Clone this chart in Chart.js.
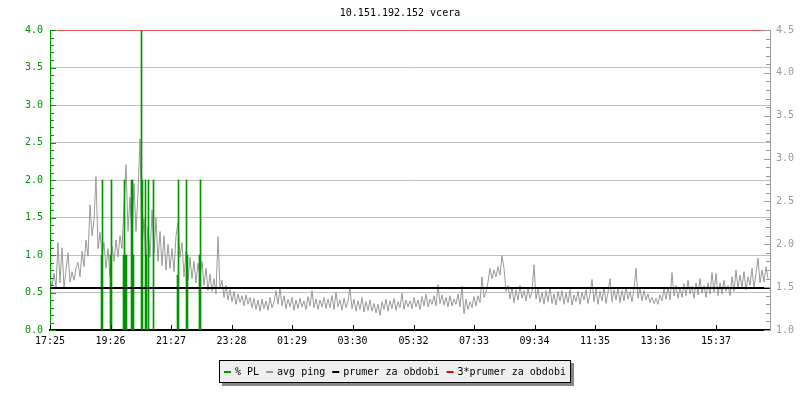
<!DOCTYPE html>
<html>
<head>
<meta charset="utf-8">
<script src="https://cdn.jsdelivr.net/npm/chart.js@4.4.1/dist/chart.umd.min.js"></script>
<style>
  html, body { margin: 0; padding: 0; background: #fff; }
</style>
</head>
<body>
<canvas id="chart1" width="800" height="400"></canvas>
<script>
const titleText = '10.151.192.152 vcera';

// x axis: minutes since 17:25
const tickMinutes = [0, 121, 242, 363, 484, 605, 727, 848, 969, 1090, 1211, 1332];
const timeLabels = ['17:25', '19:26', '21:27', '23:28', '01:29', '03:30',
  '05:32', '07:33', '09:34', '11:35', '13:36', '15:37'];

// avg ping, one sample every 4 minutes (right axis)
const stepMinutes = 4;
const pingValues = [
  1.60, 1.52, 1.66, 1.50, 2.02, 1.55, 1.96, 1.49, 1.70, 1.90, 1.56, 1.68, 1.58, 1.72, 1.79, 1.62,
  1.92, 1.74, 2.05, 1.86, 2.46, 2.10, 2.28, 2.79, 1.95, 2.14, 1.88, 2.02, 1.72, 1.95, 1.62,
  1.98, 1.80, 2.05, 1.85, 2.10, 1.95, 2.45, 2.93, 2.15, 2.55, 2.05, 2.71, 2.15, 2.60, 3.23,
  1.95, 2.30, 1.75, 2.20, 1.85, 2.40, 1.90, 2.31, 1.80, 2.15, 1.75, 2.10, 1.70, 2.00, 1.72,
  1.95, 1.68, 2.10, 2.25, 1.85, 2.02, 1.62, 1.92, 1.58, 1.85, 1.60, 1.80, 1.55, 1.78, 1.62,
  1.80, 1.52, 1.72, 1.46, 1.65, 1.45, 1.60, 1.42, 2.09, 1.48, 1.58, 1.38, 1.52, 1.35, 1.47,
  1.33, 1.45, 1.30, 1.42, 1.32, 1.40, 1.28, 1.41, 1.30, 1.38, 1.26, 1.37, 1.24, 1.35, 1.22,
  1.36, 1.25, 1.34, 1.23, 1.38, 1.26, 1.33, 1.46, 1.30, 1.49, 1.28, 1.40, 1.25, 1.36, 1.27,
  1.38, 1.23, 1.35, 1.25, 1.37, 1.27, 1.34, 1.24, 1.39, 1.28, 1.46, 1.26, 1.36, 1.24, 1.35,
  1.27, 1.38, 1.25, 1.36, 1.26, 1.40, 1.24, 1.44, 1.27, 1.35, 1.23, 1.37, 1.26, 1.34, 1.49,
  1.25, 1.36, 1.22, 1.34, 1.24, 1.38, 1.21, 1.33, 1.23, 1.35, 1.22, 1.31, 1.20, 1.30, 1.17,
  1.33, 1.24, 1.36, 1.22, 1.34, 1.25, 1.37, 1.23, 1.33, 1.26, 1.43, 1.24, 1.35, 1.27, 1.34,
  1.25, 1.38, 1.27, 1.35, 1.24, 1.39, 1.28, 1.42, 1.27, 1.36, 1.30, 1.40, 1.28, 1.53, 1.31,
  1.41, 1.29, 1.38, 1.27, 1.40, 1.28, 1.36, 1.30, 1.42, 1.27, 1.51, 1.19, 1.36, 1.24, 1.33,
  1.26, 1.39, 1.28, 1.40, 1.32, 1.62, 1.38, 1.44, 1.56, 1.72, 1.60, 1.70, 1.62, 1.74, 1.64,
  1.87, 1.72, 1.45, 1.52, 1.36, 1.50, 1.32, 1.47, 1.35, 1.52, 1.37, 1.46, 1.34, 1.48, 1.37,
  1.45, 1.76, 1.36, 1.48, 1.32, 1.44, 1.30, 1.46, 1.33, 1.50, 1.31, 1.42, 1.29, 1.45, 1.34,
  1.46, 1.30, 1.43, 1.32, 1.47, 1.29, 1.41, 1.33, 1.45, 1.30, 1.44, 1.35, 1.47, 1.31, 1.42,
  1.59, 1.33, 1.48, 1.30, 1.45, 1.34, 1.50, 1.31, 1.44, 1.60, 1.33, 1.47, 1.35, 1.49, 1.32,
  1.46, 1.34, 1.50, 1.36, 1.45, 1.33, 1.48, 1.72, 1.37, 1.49, 1.34, 1.46, 1.35, 1.42, 1.32,
  1.38, 1.31, 1.37, 1.30, 1.41, 1.34, 1.48, 1.36, 1.50, 1.35, 1.67, 1.40, 1.52, 1.37, 1.49,
  1.38, 1.54, 1.40, 1.58, 1.42, 1.51, 1.37, 1.55, 1.41, 1.60, 1.43, 1.52, 1.38, 1.55, 1.42,
  1.67, 1.44, 1.66, 1.40, 1.55, 1.42, 1.58, 1.45, 1.52, 1.40, 1.62, 1.45, 1.70, 1.48, 1.64,
  1.50, 1.68, 1.47, 1.62, 1.52, 1.72, 1.49, 1.66, 1.84, 1.55, 1.70, 1.56, 1.74, 1.60
];

// packet loss events (left axis)
const lossMinutes = [103, 105, 121, 123, 147, 149, 151, 153, 163, 165, 167,
  183, 185, 191, 193, 197, 207, 255, 257, 273, 275, 299, 301];
const lossValues = [1.0, 2.0, 1.0, 2.0, 1.0, 2.0, 1.0, 1.0, 2.0, 2.0, 1.0,
  4.0, 2.0, 2.0, 1.0, 2.0, 2.0, 0.73, 2.0, 2.0, 1.0, 1.0, 2.0];

const avgPing = 1.49;
const tripleAvgPing = 4.5;

const green = '#009600';
const gray = '#999999';

Chart.defaults.font.family = "'DejaVu Sans Mono', monospace";
Chart.defaults.font.size = 10;
Chart.defaults.color = '#000';

const axisMarks = {
  id: 'axisMarks',
  afterDatasetsDraw(chart) {
    const { ctx, chartArea: a, scales: { x, y, y2 } } = chart;
    const line = (x1, y1, x2, y2p) => {
      ctx.beginPath(); ctx.moveTo(x1, y1); ctx.lineTo(x2, y2p); ctx.stroke();
    };
    ctx.save();
    ctx.lineWidth = 1;
    ctx.strokeStyle = green;
    for (let i = 0; i <= 40; i++) {
      const py = Math.round(y.getPixelForValue(i / 10)) + 0.5;
      line(a.left, py, a.left + (i % 5 === 0 ? 6 : 4), py);
    }
    ctx.strokeStyle = gray;
    for (let i = 10; i <= 45; i++) {
      const py = Math.round(y2.getPixelForValue(i / 10)) + 0.5;
      line(a.right, py, a.right - (i % 5 === 0 ? 6 : 4), py);
    }
    ctx.strokeStyle = '#000';
    x.ticks.forEach(t => {
      const px = Math.round(x.getPixelForValue(t.value)) + 0.5;
      line(px, a.bottom, px, a.bottom - 5);
    });
    ctx.restore();
  },
  afterDraw(chart) {
    const { ctx } = chart;
    const items = chart.data.datasets.map(ds => ({ label: ds.label, color: ds.borderColor }));
    ctx.save();
    ctx.font = "10px 'DejaVu Sans Mono', monospace";
    ctx.textBaseline = 'middle';
    let content = 0;
    items.forEach((it, i) => {
      it.w = ctx.measureText(it.label).width;
      content += 11 + it.w + (i < items.length - 1 ? 7 : 0);
    });
    const w = Math.round(content + 10), h = 23;
    const left = Math.round(394.5 - w / 2), top = 360;
    ctx.fillStyle = '#888';
    ctx.fillRect(left + 3, top + 3, w, h);
    ctx.fillStyle = '#eeeeee';
    ctx.fillRect(left, top, w, h);
    ctx.strokeStyle = '#000';
    ctx.lineWidth = 1;
    ctx.strokeRect(left + 0.5, top + 0.5, w - 1, h - 1);
    let cx = left + 5;
    const cy = top + 12;
    items.forEach(it => {
      ctx.fillStyle = it.color;
      ctx.fillRect(cx, cy - 1, 7, 2);
      cx += 11;
      ctx.fillStyle = '#000';
      ctx.fillText(it.label, cx, cy);
      cx += it.w + 7;
    });
    ctx.restore();
  }
};

const ctx = document.getElementById('chart1').getContext('2d');
new Chart(ctx, {
  type: 'line',
  data: {
    datasets: [
      {
        type: 'bar',
        label: '% PL',
        data: lossMinutes.map((m, i) => ({ x: m, y: lossValues[i] })),
        backgroundColor: green,
        borderColor: green,
        borderWidth: 0,
        barThickness: 1,
        yAxisID: 'y',
        order: 1,
      },
      {
        label: 'avg ping',
        data: pingValues.map((v, i) => ({ x: i * stepMinutes, y: v })),
        borderColor: gray,
        borderWidth: 1,
        pointRadius: 0,
        tension: 0,
        yAxisID: 'y2',
        order: 2,
      },
      {
        label: 'prumer za obdobi',
        data: [{ x: 0, y: avgPing }, { x: 1440, y: avgPing }],
        borderColor: '#000',
        borderWidth: 2,
        pointRadius: 0,
        yAxisID: 'y2',
        order: 0,
      },
      {
        label: '3*prumer za obdobi',
        data: [{ x: 0, y: tripleAvgPing }, { x: 1440, y: tripleAvgPing }],
        borderColor: '#ff0000',
        borderWidth: 1,
        pointRadius: 0,
        yAxisID: 'y2',
        order: 0,
      },
    ],
  },
  options: {
    responsive: false,
    animation: false,
    devicePixelRatio: 1,
    layout: { padding: 0 },
    plugins: {
      legend: { display: false },
      tooltip: { enabled: false },
      title: {
        display: true,
        text: titleText,
        color: '#000',
        font: { size: 10, weight: 'normal' },
        padding: { top: 7, bottom: 11 },
      },
    },
    scales: {
      x: {
        type: 'linear',
        min: 0,
        max: 1440,
        offset: false,
        afterBuildTicks: s => { s.ticks = tickMinutes.map(v => ({ value: v })); },
        afterFit: s => { s.height = 70; },
        ticks: {
          autoSkip: false,
          maxRotation: 0,
          padding: 5,
          color: '#000',
          callback: (v, i) => timeLabels[i],
        },
        grid: { display: false, drawTicks: false },
        border: { color: '#000', width: 2 },
      },
      y: {
        position: 'left',
        min: 0,
        max: 4,
        afterFit: s => { s.width = 50; },
        ticks: { stepSize: 0.5, color: green, padding: 7, callback: v => v.toFixed(1) },
        grid: { color: '#c0c0c0', drawTicks: false },
        border: { color: green, width: 1 },
      },
      y2: {
        position: 'right',
        min: 1,
        max: 4.5,
        afterFit: s => { s.width = 30; },
        ticks: { stepSize: 0.5, color: gray, padding: 6, callback: v => v.toFixed(1) },
        grid: { display: false, drawTicks: false },
        border: { color: gray, width: 1 },
      },
    },
  },
  plugins: [axisMarks],
});
</script>
</body>
</html>
